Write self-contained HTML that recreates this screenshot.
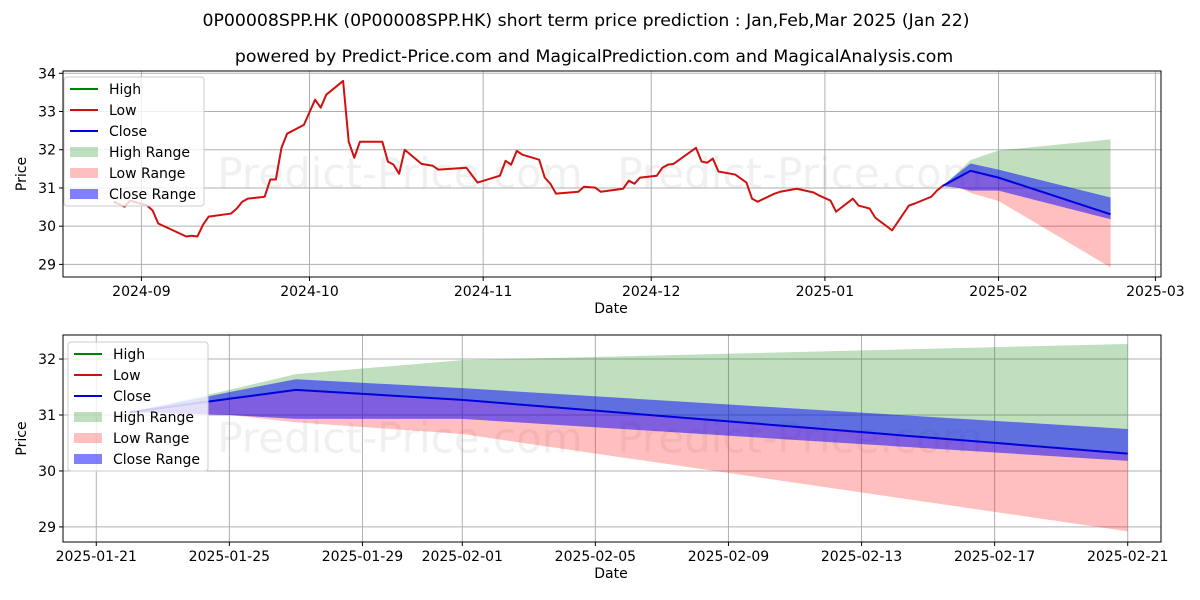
<!DOCTYPE html>
<html><head><meta charset="utf-8"><style>
html,body{margin:0;padding:0;background:#fff;}
svg{display:block;font-family:"DejaVu Sans","Liberation Sans",sans-serif;}
</style></head><body>
<svg id="chart" width="1200" height="600" viewBox="0 0 1200 600" xmlns="http://www.w3.org/2000/svg">
<text x="586" y="26" text-anchor="middle" font-size="17.3" fill="#000">0P00008SPP.HK (0P00008SPP.HK) short term price prediction : Jan,Feb,Mar 2025 (Jan 22)</text>
<text x="594" y="62" text-anchor="middle" font-size="17.3" fill="#000">powered by Predict-Price.com and MagicalPrediction.com and MagicalAnalysis.com</text>
<g id="top"></g>
<g id="bot"></g>
</svg>
<script>
const histDates = ["2024-08-27","2024-08-29","2024-08-30","2024-09-02","2024-09-03","2024-09-04","2024-09-09","2024-09-10","2024-09-11","2024-09-12","2024-09-13","2024-09-17","2024-09-18","2024-09-19","2024-09-20","2024-09-23","2024-09-24","2024-09-25","2024-09-26","2024-09-27","2024-09-30","2024-10-02","2024-10-03","2024-10-04","2024-10-07","2024-10-08","2024-10-09","2024-10-10","2024-10-14","2024-10-15","2024-10-16","2024-10-17","2024-10-18","2024-10-21","2024-10-23","2024-10-24","2024-10-29","2024-10-31","2024-11-04","2024-11-05","2024-11-06","2024-11-07","2024-11-08","2024-11-11","2024-11-12","2024-11-13","2024-11-14","2024-11-18","2024-11-19","2024-11-21","2024-11-22","2024-11-26","2024-11-27","2024-11-28","2024-11-29","2024-12-02","2024-12-03","2024-12-04","2024-12-05","2024-12-09","2024-12-10","2024-12-11","2024-12-12","2024-12-13","2024-12-16","2024-12-18","2024-12-19","2024-12-20","2024-12-23","2024-12-24","2024-12-27","2024-12-30","2024-12-31","2025-01-02","2025-01-03","2025-01-06","2025-01-07","2025-01-09","2025-01-10","2025-01-13","2025-01-16","2025-01-17","2025-01-20","2025-01-21","2025-01-22"];
const histLow = [30.64,30.51,30.67,30.54,30.41,30.07,29.73,29.75,29.73,30.04,30.25,30.33,30.46,30.64,30.72,30.77,31.22,31.22,32.05,32.42,32.65,33.31,33.1,33.44,33.8,32.21,31.79,32.21,32.21,31.69,31.61,31.37,32.0,31.63,31.58,31.48,31.53,31.14,31.32,31.71,31.61,31.97,31.87,31.74,31.27,31.11,30.85,30.9,31.03,31.01,30.9,30.98,31.19,31.11,31.27,31.32,31.53,31.61,31.63,32.05,31.69,31.66,31.77,31.43,31.35,31.14,30.72,30.64,30.85,30.9,30.98,30.88,30.8,30.67,30.38,30.72,30.54,30.46,30.22,29.89,30.54,30.59,30.77,30.93,31.05];
const fcDates = ["2025-01-22","2025-01-25","2025-01-27","2025-02-01","2025-02-21"];
const fcClose = [31.05,31.29,31.45,31.27,30.31];
const fcCloseHi = [31.05,31.41,31.64,31.48,30.75];
const fcCloseLo = [31.05,31.0,30.93,30.93,30.18];
const fcHighHi = [31.05,31.45,31.73,31.98,32.27];
const fcLowLo = [31.05,31.0,30.87,30.66,28.92];
const topYTicks = [29,30,31,32,33,34];
const topXTicks = ["2024-09-01","2024-10-01","2024-11-01","2024-12-01","2025-01-01","2025-02-01","2025-03-01"];
const botYTicks = [29,30,31,32];
const botXTicks = ["2025-01-21","2025-01-25","2025-01-29","2025-02-01","2025-02-05","2025-02-09","2025-02-13","2025-02-17","2025-02-21"];

const NS="http://www.w3.org/2000/svg";
const day = s => Date.parse(s+"T00:00:00Z")/86400000;
function mk(parent, tag, attrs){const e=document.createElementNS(NS,tag);for(const k in attrs)e.setAttribute(k,attrs[k]);parent.appendChild(e);return e;}

function panel(g, box, xDom, yDom, xTicks, xFmt, yTicks, showHist, pfx){
  const [L,T,R,B]=box;
  const x0=day(xDom[0]), x1=day(xDom[1]);
  const x = d => L+(day(d)-x0)/(x1-x0)*(R-L);
  const y = v => B-(v-yDom[0])/(yDom[1]-yDom[0])*(B-T);
  const clip = mk(g,"clipPath",{id:pfx+"clip"});
  mk(clip,"rect",{x:L,y:T,width:R-L,height:B-T});
  const wm=[[400,(T+B)/2+14],[800,(T+B)/2+14]];
  wm.forEach(p=>{const t=mk(g,"text",{x:p[0],y:p[1],"text-anchor":"middle","font-size":"42",fill:"#000","fill-opacity":"0.06"});t.textContent="Predict-Price.com";
    
    });
  yTicks.forEach(v=>{const l=mk(g,"line",{x1:L,x2:R,y1:y(v),y2:y(v),stroke:"#b0b0b0","stroke-width":"1"});
    
    
    mk(g,"line",{x1:L-4,x2:L,y1:y(v),y2:y(v),stroke:"#000"});
    const t=mk(g,"text",{x:L-7,y:y(v)+5,"text-anchor":"end","font-size":"14"});t.textContent=v;
    
    });
  xTicks.forEach(d=>{const l=mk(g,"line",{x1:x(d),x2:x(d),y1:T,y2:B,stroke:"#b0b0b0","stroke-width":"1"});
    
    
    mk(g,"line",{x1:x(d),x2:x(d),y1:B,y2:B+4,stroke:"#000"});
    const t=mk(g,"text",{x:x(d),y:B+19,"text-anchor":"middle","font-size":"14"});t.textContent=xFmt(d);
    
    });
  const cg=mk(g,"g",{"clip-path":"url(#"+pfx+"clip)"});
  const area=(up,lo)=>{let p=fcDates.map((d,i)=>x(d)+","+y(up[i]));for(let i=fcDates.length-1;i>=0;i--)p.push(x(fcDates[i])+","+y(lo[i]));return p.join(" ");};
  const a1=mk(cg,"polygon",{points:area(fcHighHi,fcClose),fill:"green","fill-opacity":"0.25"});
  
  
  const a2=mk(cg,"polygon",{points:area(fcClose,fcLowLo),fill:"red","fill-opacity":"0.25"});
  
  
  const a3=mk(cg,"polygon",{points:area(fcCloseHi,fcCloseLo),fill:"blue","fill-opacity":"0.5"});
  
  
  if(showHist){
    const h=mk(cg,"polyline",{points:histDates.map((d,i)=>x(d)+","+y(histLow[i])).join(" "),fill:"none",stroke:"#d01010","stroke-width":"2","stroke-linejoin":"round"});
    
    
  }
  const c=mk(cg,"polyline",{points:fcDates.map((d,i)=>x(d)+","+y(fcClose[i])).join(" "),fill:"none",stroke:"#0000dd","stroke-width":"2"});
  
  
  const f=mk(g,"rect",{x:L,y:T,width:R-L,height:B-T,fill:"none",stroke:"#000","stroke-width":"1"});
  
  
  const yl=mk(g,"text",{x:0,y:0,transform:"translate(26,"+((T+B)/2)+") rotate(-90)","text-anchor":"middle","font-size":"14"});yl.textContent="Price";
  
  
  const xl=mk(g,"text",{x:611,y:B+36,"text-anchor":"middle","font-size":"14"});xl.textContent="Date";
  
  
}
function legend(g,lx,ly){
  const lg=mk(g,"g",{});
  
  
  mk(lg,"rect",{x:lx,y:ly,width:140,height:129,rx:3,fill:"#fff","fill-opacity":"0.8",stroke:"#ccc"});
  const items=[["High","line","green"],["Low","line","#d01010"],["Close","line","#0000dd"],["High Range","box","rgba(0,128,0,0.25)"],["Low Range","box","rgba(255,0,0,0.25)"],["Close Range","box","rgba(0,0,255,0.5)"]];
  items.forEach((it,i)=>{const cy=ly+12+i*21;
    if(it[1]=="line")mk(lg,"line",{x1:lx+6,x2:lx+34,y1:cy,y2:cy,stroke:it[2],"stroke-width":"2"});
    else mk(lg,"rect",{x:lx+6,y:cy-5,width:28,height:10,fill:it[2]});
    const t=mk(lg,"text",{x:lx+45,y:cy+5,"font-size":"14"});t.textContent=it[0];
    
    });
}
const topPanel=document.getElementById("top"),botPanel=document.getElementById("bot");
panel(topPanel,[63,71,1161,277],["2024-08-18","2025-03-02"],[28.67,34.06],topXTicks,d=>d.slice(0,7),topYTicks,true,"t");
legend(topPanel,64,77);
panel(botPanel,[63,335,1161,542],["2025-01-20","2025-02-22"],[28.73,32.43],botXTicks,d=>d,botYTicks,false,"b");
legend(botPanel,68,342);
</script>
</body></html>
